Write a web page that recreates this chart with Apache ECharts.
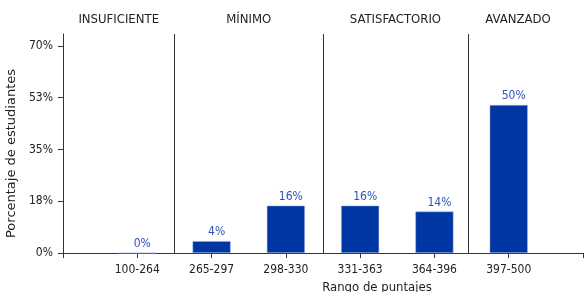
<!DOCTYPE html>
<html>
<head>
<meta charset="utf-8">
<script src="https://cdn.jsdelivr.net/npm/echarts@6/dist/echarts.min.js"></script>
<style>
  html, body { margin: 0; padding: 0; background: #fff; }
  #chart { width: 586px; height: 292px; }
</style>
</head>
<body>
<div id="chart"></div>
<script>
// rangos de puntaje y porcentaje de estudiantes
const categories = ['100-264', '265-297', '298-330', '331-363', '364-396', '397-500']
const percents = [0, 4, 16, 16, 14, 50]
const yTicks = [0, 17.5, 35, 52.5, 70]
// niveles: nombre, inicio y fin (en posiciones del eje x)
const levelNames = ['INSUFICIENTE', 'MÍNIMO', 'SATISFACTORIO', 'AVANZADO']
const levelStarts = [0, 1.5, 3.5, 5.45]
const levelEnds = [1.5, 3.5, 5.45, 6.8]
const separators = [1.5, 3.5, 5.45]

const font = 'DejaVu Sans Condensed'
const chart = echarts.init(document.getElementById('chart'))

const option = {
  animation: false,
  textStyle: { fontFamily: font },
  grid: { left: 63, right: 3, top: 34, bottom: 39, outerBoundsMode: 'none' },
  xAxis: {
    type: 'value',
    min: 0,
    max: 7,
    interval: 1,
    name: 'Rango de puntajes',
    nameLocation: 'middle',
    nameGap: 28,
    nameTextStyle: { color: '#222', fontSize: 13, fontFamily: font, padding: [0, 0, 0, 108] },
    axisLine: { lineStyle: { color: '#333' } },
    axisTick: { length: 5, lineStyle: { color: '#333' } },
    axisLabel: {
      color: '#222', fontSize: 12, fontFamily: font, margin: 11,
      formatter: v => categories[v - 1] || ''
    },
    splitLine: { show: false }
  },
  yAxis: {
    type: 'value',
    min: 0,
    max: 74,
    name: 'Porcentaje de estudiantes',
    nameLocation: 'middle',
    nameGap: 42,
    nameTextStyle: { color: '#222', fontSize: 13, fontFamily: 'DejaVu Sans', padding: [0, 20, 0, 0] },
    axisLine: { show: true, lineStyle: { color: '#333' } },
    axisTick: { show: true, length: 5, customValues: yTicks, lineStyle: { color: '#333' } },
    axisLabel: {
      color: '#222', fontSize: 12, fontFamily: font, margin: 10,
      customValues: yTicks,
      formatter: v => Math.round(v) + '%'
    },
    splitLine: { show: false }
  },
  series: [
    {
      type: 'bar',
      barWidth: 38,
      data: percents.map((p, i) => [i + 1, p]),
      itemStyle: { color: '#0036a2', borderColor: '#9fb3e6', borderWidth: 0.5 },
      label: {
        show: true,
        position: 'top',
        distance: 3,
        offset: [5, 0],
        color: '#2b52bf',
        fontSize: 12,
        fontFamily: font,
        formatter: p => p.value[1] + '%'
      },
      markLine: {
        silent: true,
        symbol: 'none',
        label: { show: false },
        lineStyle: { color: '#333', type: 'solid', width: 1 },
        data: separators.map(x => ({ xAxis: x }))
      },
      markArea: {
        silent: true,
        itemStyle: { color: 'rgba(0,0,0,0)' },
        label: {
          show: true,
          position: 'top',
          distance: 8,
          color: '#222',
          fontSize: 13,
          fontFamily: font
        },
        data: levelNames.map((n, i) => [
          { name: n, xAxis: levelStarts[i] },
          { xAxis: levelEnds[i] }
        ])
      }
    }
  ]
}

chart.setOption(option)
</script>
</body>
</html>
